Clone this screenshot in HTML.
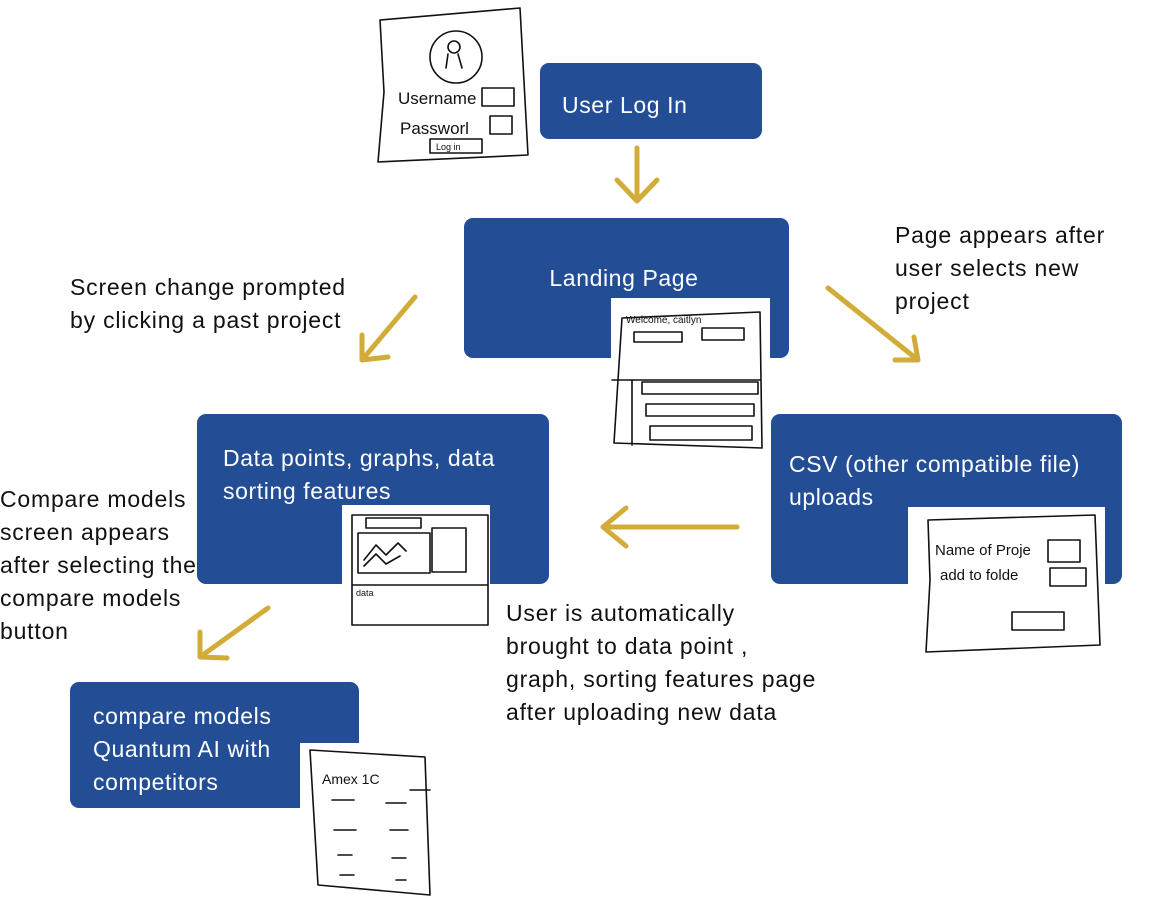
<!DOCTYPE html>
<html><head><meta charset="utf-8"><style>
body{margin:0;width:1155px;height:913px;background:#fff;position:relative;overflow:hidden;font-family:"Liberation Sans",sans-serif}
.b{position:absolute;background:#234e96;border-radius:9px;color:#fff;font-size:23px;letter-spacing:0.6px;line-height:33px}
.t{position:absolute;color:#111;font-size:23px;letter-spacing:0.8px;line-height:33px;white-space:nowrap}
.w{position:absolute;background:#fff}
svg{position:absolute;left:0;top:0}
</style></head><body>
<div class="b" style="left:540px;top:63px;width:222px;height:76px"><span style="position:absolute;left:22px;top:26px">User Log In</span></div>
<div class="b" style="left:464px;top:218px;width:325px;height:140px"><span style="position:absolute;left:0;width:320px;text-align:center;top:44px">Landing Page</span></div>
<div class="b" style="left:197px;top:414px;width:352px;height:170px"><span style="position:absolute;left:26px;top:28px">Data points, graphs, data<br>sorting features</span></div>
<div class="b" style="left:771px;top:414px;width:351px;height:170px"><span style="position:absolute;left:18px;top:34px;white-space:nowrap">CSV (other compatible file)<br>uploads</span></div>
<div class="b" style="left:70px;top:682px;width:289px;height:126px"><span style="position:absolute;left:23px;top:18px">compare models<br>Quantum AI with<br>competitors</span></div>
<div class="w" style="left:611px;top:298px;width:159px;height:152px"></div>
<div class="w" style="left:342px;top:505px;width:148px;height:125px"></div>
<div class="w" style="left:908px;top:507px;width:197px;height:153px"></div>
<div class="w" style="left:300px;top:743px;width:140px;height:157px"></div>
<div class="t" style="left:895px;top:219px">Page appears after<br>user selects new<br>project</div>
<div class="t" style="left:70px;top:271px">Screen change prompted<br>by clicking a past project</div>
<div class="t" style="left:0px;top:483px">Compare models<br>screen appears<br>after selecting the<br>compare models<br>button</div>
<div class="t" style="left:506px;top:597px">User is automatically<br>brought to data point ,<br>graph, sorting features page<br>after uploading new data</div>
<svg width="1155" height="913" fill="none" stroke-linecap="round" stroke-linejoin="round">
<g stroke="#d2ac38" stroke-width="5">
<path d="M637 148V200M617 180L637 201L657 180"/>
<path d="M415 297L362 360M362 335L362 360L388 357"/>
<path d="M828 288L918 360M895 360L918 360L914 337"/>
<path d="M737 527H603M626 508L603 527L626 546"/>
<path d="M268 608L200 657M200 632L200 657L227 658"/>
</g>
<g stroke="#111" stroke-width="1.6" font-family="Liberation Sans" font-size="9">
<path d="M380 20L520 8L528 155L378 162L384 92Z"/>
<circle cx="456" cy="57" r="26"/><circle cx="454" cy="47" r="6"/><path d="M448 54L446 68M458 54L462 68"/>
<text x="398" y="104" font-size="17" fill="#111" stroke="none">Username</text>
<path d="M482 88h32v18h-32z"/>
<text x="400" y="134" font-size="17" fill="#111" stroke="none">Passworl</text>
<path d="M490 116h22v18h-22z M430 139h52v14h-52z"/>
<text x="436" y="150" fill="#111" stroke="none">Log in</text>
<path d="M622 318L760 312L762 448L614 443L618 380Z M612 380h148"/>
<text x="626" y="323" font-size="10" fill="#111" stroke="none">Welcome, caitlyn</text>
<path d="M634 332h48v10h-48z M702 328h42v12h-42z M642 382h116v12h-116z M646 404h108v12h-108z M650 426h102v14h-102z M632 380v65"/>
<path d="M352 515h136v110h-136z M358 533h72v40h-72z M432 528h34v44h-34z M366 518h55v10h-55z M352 585h136"/>
<path d="M364 560l12-15l10 10l12-12l8 8 M364 566l12-12l10 10l14-8"/>
<text x="356" y="596" fill="#111" stroke="none">data</text>
<path d="M928 520L1095 515L1100 645L926 652L930 580Z"/>
<text x="935" y="555" font-size="15" fill="#111" stroke="none">Name of Proje</text>
<text x="940" y="580" font-size="15" fill="#111" stroke="none">add to folde</text>
<path d="M1048 540h32v22h-32z M1050 568h36v18h-36z M1012 612h52v18h-52z"/>
<path d="M310 750L425 757L430 895L318 885Z M410 790L430 790"/>
<text x="322" y="784" font-size="14" fill="#111" stroke="none">Amex 1C</text>
<path d="M332 800h22M386 803h20M334 830h22M390 830h18M338 855h14M392 858h14M340 875h14M396 880h10"/>
</g>
</svg>
</body></html>
